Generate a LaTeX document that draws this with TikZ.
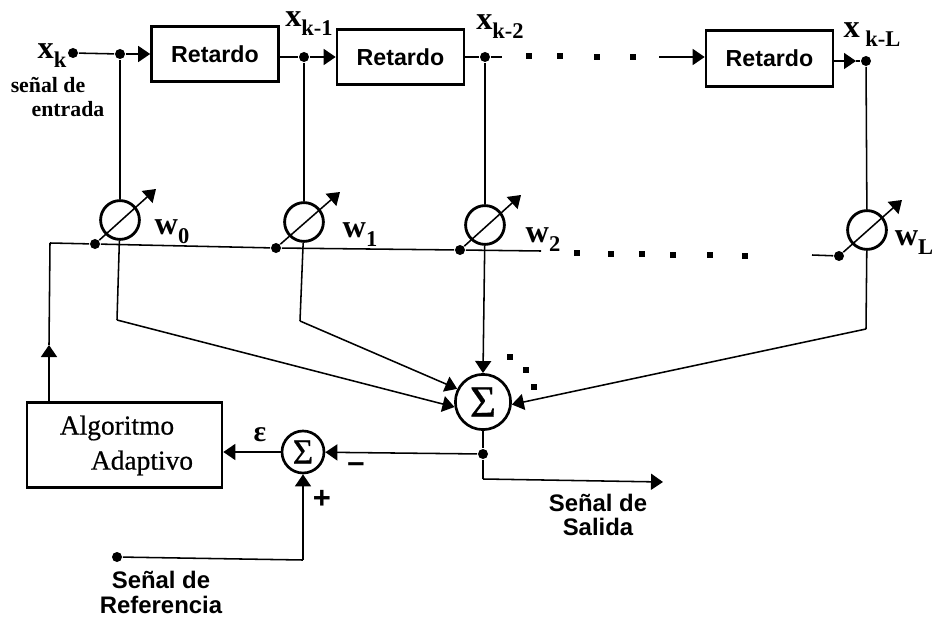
\documentclass[tikz,border=0pt]{standalone}
\usepackage{fontspec}
\setmainfont{Liberation Serif}
\newfontfamily\sansb{Liberation Sans}
\newfontfamily\serifg[FakeBold=0.6]{Liberation Serif}
\usetikzlibrary{positioning,arrows.meta,calc}
\newcommand{\xsub}[2]{#1\raisebox{-0.28em}{\fontsize{16}{16}\selectfont #2}}
\tikzset{
  linea/.style={line width=1.1pt},
  caja/.style={draw,line width=2pt,minimum width=3.17cm,minimum height=1.38cm,inner sep=0pt},
  retardo/.style={caja,font=\sansb\fontsize{16.5}{16.5}\selectfont\bfseries},
  punto/.style={circle,fill,inner sep=0pt,minimum size=0.25cm},
  punti/.style={rectangle,fill,inner sep=0pt,minimum size=0.14cm},
  peso/.style={circle,draw,line width=2pt,inner sep=0pt,minimum size=0.97cm},
  suma/.style={circle,draw,line width=1.9pt,inner sep=0pt,font=\serifg\fontsize{32}{32}\selectfont},
  etiq/.style={inner sep=0pt,font=\fontsize{23}{23}\selectfont\bfseries},
  texto/.style={inner sep=0pt,font=\sansb\fontsize{17}{17}\selectfont\bfseries},
  menor/.style={inner sep=0pt,font=\fontsize{15.5}{15.5}\selectfont\bfseries},
  algo/.style={inner sep=0pt,font=\serifg\fontsize{19.5}{19.5}\selectfont},
}
\begin{document}
\begin{tikzpicture}[x=0.025cm,y=-0.025cm,linea,>={Triangle[length=0.3cm,width=0.4cm]}]
  \useasboundingbox (0,0) rectangle (934,617);
  % linea de retardos
  \node[retardo] (r1) at (215,54) {Retardo};
  \node[retardo] (r2) at (400.5,57) {Retardo};
  \node[retardo] (r3) at (769.5,58.5) {Retardo};
  \node[punto] (xk) at (73,53) {};
  \node[punto] (j0) at (120,54) {};
  \node[punto] (j1) at (304,57) {};
  \node[punto] (j2) at (485,57) {};
  \node[punto] (jL) at (866,61) {};
  \coordinate (f2) at (502,57);
  \coordinate (i3) at (659,57);
  \coordinate (m3) at (856,61);
  \draw (xk) -- (j0);
  \draw[->] (j0) -- (r1.west |- j0);
  \draw (r1.east |- j1) -- (j1);
  \draw[->] (j1) -- (r2.west |- j1);
  \draw (r2.east |- j2) -- (j2) -- (f2);
  \draw[->] (i3) -- (r3.west |- i3);
  \draw[->] (r3.east |- m3) -- (m3);
  \draw (m3) -- (jL);
  \foreach \x/\y in {529/56,560/56,597/57,633/57}
    \node[punti] at (\x,\y) {};
  % pesos
  \node[peso] (p0) at (120,220) {};
  \node[peso] (p1) at (304,222) {};
  \node[peso] (p2) at (485,225) {};
  \node[peso] (pL) at (867,230) {};
  \node[punto] (d0) at (95,244) {};
  \node[punto] (d1) at (276,248) {};
  \node[punto] (d2) at (460,250) {};
  \node[punto] (dL) at (839,256) {};
  \coordinate (a0) at (156,189);
  \coordinate (a1) at (340,192);
  \coordinate (a2) at (521,195);
  \coordinate (aL) at (902,200);
  \draw[->] (d0) -- (a0);
  \draw[->] (d1) -- (a1);
  \draw[->] (d2) -- (a2);
  \draw[->] (dL) -- (aL);
  \draw (j0) -- (p0);
  \draw (j1) -- (p1);
  \draw (j2) -- (p2);
  \draw (jL) -- (pL);
  % bus de adaptacion
  \coordinate (c0) at (50,243);
  \coordinate (e2) at (541,251);
  \coordinate (iL) at (812,255);
  \draw (c0) -- (d0) -- (d1) -- (d2) -- (e2);
  \draw (iL) -- (dL);
  \foreach \x/\y in {577/253,611/254,642/254,673/255,710/255,745/256}
    \node[punti] at (\x,\y) {};
  % sumadores
  \node[suma,minimum size=1.38cm] (s1) at (483,402) {Σ};
  \node[suma,minimum size=1.05cm,font=\serifg\fontsize{25}{25}\selectfont] (s2) at (303,452) {Σ};
  \node[draw,line width=2pt,minimum width=4.87cm,minimum height=2.13cm,inner sep=0pt] (alg) at (124.5,445) {};
  \node[algo] (t1) at (117,428) {Algoritmo};
  \node[algo] (t2) at (142,463) {Adaptivo};
  \coordinate (b0) at (117,320);
  \coordinate (b1) at (300,321);
  \coordinate (bL) at (866,329);
  \coordinate (m0) at (49,353);
  \draw (p0) -- (b0);
  \draw[->] (b0) -- (s1.190);
  \draw (p1) -- (b1);
  \draw[->] (b1) -- (s1.153);
  \draw[->] (p2) -- (s1.north);
  \draw (pL) -- (bL);
  \draw[->] (bL) -- (s1.-5);
  \foreach \x/\y in {510/357,526/370,534/387}
    \node[punti] at (\x,\y) {};
  \draw[->] (alg.north -| m0) -- (m0 |- 0,345);
  \draw (m0 |- 0,345) -- (c0);
  % salida y referencia
  \node[punto] (js) at (483,454) {};
  \node[punto] (ref) at (117,557) {};
  \coordinate (qs) at (483,479);
  \coordinate (sal) at (663,482);
  \coordinate (qr) at (303,560);
  \draw (s1) -- (js);
  \draw[->] (js) -- (s2);
  \draw[->] (s2) -- (alg.east |- s2);
  \draw (js) -- (qs);
  \draw[->] (qs) -- (sal);
  \draw (ref) -- (qr);
  \draw[->] (qr) -- (s2);
  % textos
  \node[etiq] (lx0) at (52,56) {\xsub{x}{k}};
  \node[etiq] (lx1) at (309,24) {\xsub{x}{k-1}};
  \node[etiq] (lx2) at (500,27) {\xsub{x}{k-2}};
  \node[etiq] (lxL) at (872,35) {\xsub{x\,}{k-L}};
  \node[etiq] (lw0) at (172,232) {\xsub{w}{0}};
  \node[etiq] (lw1) at (360,235) {\xsub{w}{1}};
  \node[etiq] (lw2) at (543,240) {\xsub{w}{2}};
  \node[etiq] (lwL) at (914,243) {\xsub{w}{L}};
  \node[menor] (e1) at (48,85) {señal de};
  \node[menor] (e2t) at (68,109) {entrada};
  \node[etiq,font=\fontsize{21}{21}\selectfont\bfseries] (eps) at (260,435) {ε};
  \node[texto,font=\sansb\fontsize{22}{22}\selectfont\bfseries] (men) at (356,468) {–};
  \node[texto,font=\sansb\fontsize{22}{22}\selectfont\bfseries] (mas) at (322,499) {+};
  \node[texto] (sa1) at (598,503) {Señal de};
  \node[texto] (sa2) at (598,527) {Salida};
  \node[texto] (re1) at (161,580) {Señal de};
  \node[texto] (re2) at (161,605) {Referencia};
\end{tikzpicture}
\end{document}
